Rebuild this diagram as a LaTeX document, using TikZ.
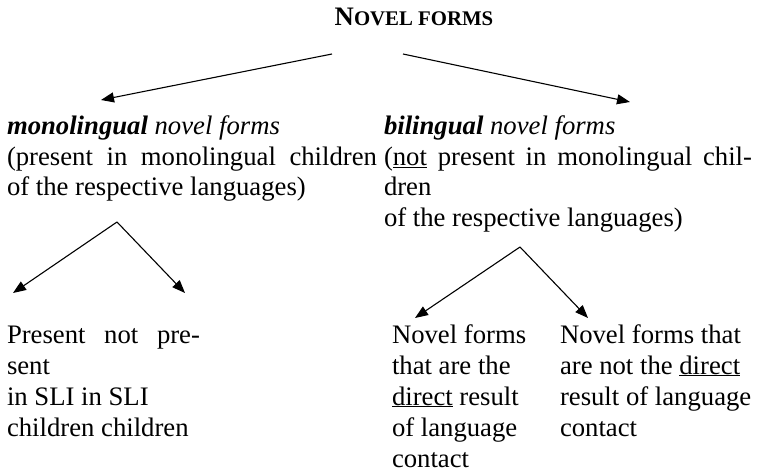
\documentclass[tikz,border=0pt]{standalone}
\usepackage{fontspec}
\setmainfont{Liberation Serif}
\usetikzlibrary{arrows.meta}
\newcommand\bodysize{\fontsize{26.7pt}{30.9pt}\selectfont}
\newcommand\scsize{\fontsize{20.8pt}{24pt}\selectfont}
\tikzset{
  txt/.style={anchor=base west, inner sep=0pt, outer sep=0pt, font=\bodysize},
  arr/.style={line width=1.1pt, -{Triangle[length=13pt,width=10pt]}},
}
\begin{document}
\begin{tikzpicture}[x=1pt,y=-1pt]
\useasboundingbox (0,0) rectangle (758,473);
% title
\node[txt, anchor=base] (title) at (414,26) {\bfseries N{\scsize OVEL FORMS}};
% arrow anchors
\coordinate (s1) at (332,54);
\coordinate (s2) at (403,54);
\coordinate (e1) at (101,100);
\coordinate (e2) at (630,102);
\coordinate (ma) at (117,222);
\coordinate (ml) at (13,293);
\coordinate (mr) at (185,293);
\coordinate (ba) at (520,247);
\coordinate (bl) at (415,318);
\coordinate (br) at (588,318);
\draw[arr] (s1) -- (e1);
\draw[arr] (s2) -- (e2);
\draw[arr] (ma) -- (ml);
\draw[arr] (ma) -- (mr);
\draw[arr] (ba) -- (bl);
\draw[arr] (ba) -- (br);
% monolingual block
\node[txt] (m1) at (7,135) {\textbf{\textit{monolingual}} \textit{novel forms}};
\node[txt] (m2) at (7,166) {\makebox[370pt][s]{(present in monolingual children}};
\node[txt] (m3) at (7,196) {of the respective languages)};
% bilingual block
\node[txt] (b1) at (384,135) {\textbf{\textit{bilingual}} \textit{novel forms}};
\node[txt] (b2) at (384,166) {\makebox[368pt][s]{(\underline{not} present in monolingual chil-}};
\node[txt] (b3) at (384,196) {dren};
\node[txt] (b4) at (384,227) {of the respective languages)};
% bottom left
\node[txt] (l1) at (7,343) {\makebox[193pt][s]{Present not pre-}};
\node[txt] (l2) at (7,374) {sent};
\node[txt] (l3) at (7,405) {in SLI in SLI};
\node[txt] (l4) at (7,436) {children children};
% bottom right column 1
\node[txt] (c1) at (392,343) {Novel forms};
\node[txt] (c2) at (392,374) {that are the};
\node[txt] (c3) at (392,405) {\underline{direct} result};
\node[txt] (c4) at (392,436) {of language};
\node[txt] (c5) at (392,467) {contact};
% bottom right column 2
\node[txt] (d1) at (560,343) {Novel forms that};
\node[txt] (d2) at (560,374) {are not the \underline{direct}};
\node[txt] (d3) at (560,405) {result of language};
\node[txt] (d4) at (560,436) {contact};
\end{tikzpicture}
\end{document}
